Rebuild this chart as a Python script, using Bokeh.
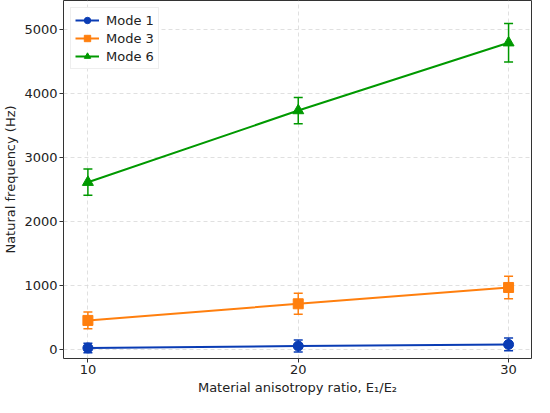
from bokeh.plotting import figure
from bokeh.models import ColumnDataSource, Whisker, TeeHead, Range1d, FixedTicker, Legend, LegendItem
from bokeh.embed import file_html
from bokeh.resources import INLINE

ratios = [10, 20, 30]
mode1 = [20, 50, 75]
mode1_err = [75, 95, 100]
mode3 = [450, 710, 965]
mode3_err = [130, 165, 175]
mode6 = [2610, 3730, 4790]
mode6_err = [205, 205, 300]
labels = ["Mode 1", "Mode 3", "Mode 6"]
colors = ["#0a3cb4", "#ff7f0e", "#009900"]
markers = ["circle", "square", "triangle"]
x_ticks = [10, 20, 30]
y_ticks = [0, 1000, 2000, 3000, 4000, 5000]

FONT = "DejaVu Sans"

p = figure(width=534, height=397, output_backend="svg", toolbar_location=None,
           x_range=Range1d(8.84, 31.09), y_range=Range1d(-145, 5450),
           min_border_left=0, min_border_right=3, min_border_top=0, min_border_bottom=0)
p.background_fill_color = "white"
p.border_fill_color = "white"
p.outline_line_color = "#333333"
p.outline_line_width = 1

for ax in (p.xaxis, p.yaxis):
    ax.major_label_text_font = FONT
    ax.major_label_text_font_size = "13px"
    ax.major_label_text_color = "#222222"
    ax.major_label_text_line_height = 1.0
    ax.axis_label_text_font = FONT
    ax.axis_label_text_font_size = "13px"
    ax.axis_label_text_font_style = "normal"
    ax.axis_label_text_color = "#222222"
    ax.axis_label_text_line_height = 0.9
    ax.axis_line_color = None
    ax.major_tick_line_color = "#333333"
    ax.major_tick_out = 4
    ax.major_tick_in = 0
    ax.minor_tick_line_color = None
    ax.major_label_standoff = 2
    ax.axis_label_standoff = 3

p.xaxis.ticker = FixedTicker(ticks=x_ticks)
p.yaxis.ticker = FixedTicker(ticks=y_ticks)
p.xaxis.axis_label = "Material anisotropy ratio, E\u2081/E\u2082"
p.yaxis.axis_label = "Natural frequency (Hz)"

for g in (p.xgrid, p.ygrid):
    g.grid_line_color = "#d8d8d8"
    g.grid_line_dash = "4 3"
    g.grid_line_width = 0.8

items = []
series = [(mode1, mode1_err), (mode3, mode3_err), (mode6, mode6_err)]
for (vals, errs), lab, col, mk in zip(series, labels, colors, markers):
    src = ColumnDataSource(dict(
        x=ratios, y=vals,
        upper=[v + e for v, e in zip(vals, errs)],
        lower=[v - e for v, e in zip(vals, errs)],
    ))
    w = Whisker(base="x", upper="upper", lower="lower", source=src,
                line_color=col, line_width=1.5,
                upper_head=TeeHead(size=9, line_color=col, line_width=1.5),
                lower_head=TeeHead(size=9, line_color=col, line_width=1.5))
    p.add_layout(w)
    r1 = p.line("x", "y", source=src, line_color=col, line_width=2)
    r2 = p.scatter("x", "y", source=src, marker=mk, size=10 if mk != "triangle" else 11,
                   fill_color=col, line_color=col)
    items.append(LegendItem(label=lab, renderers=[r1, r2]))

legend = Legend(items=items, location="top_left")
legend.label_text_font = FONT
legend.label_text_font_size = "13px"
legend.label_text_color = "#222222"
legend.border_line_color = "#dddddd"
legend.border_line_width = 1
legend.background_fill_alpha = 0.9
legend.glyph_width = 24
legend.glyph_height = 16
legend.spacing = 2
legend.padding = 4
legend.margin = 7
legend.label_standoff = 7
legend.label_height = 16
p.add_layout(legend)

open("out.html", "w").write(file_html(p, INLINE))
